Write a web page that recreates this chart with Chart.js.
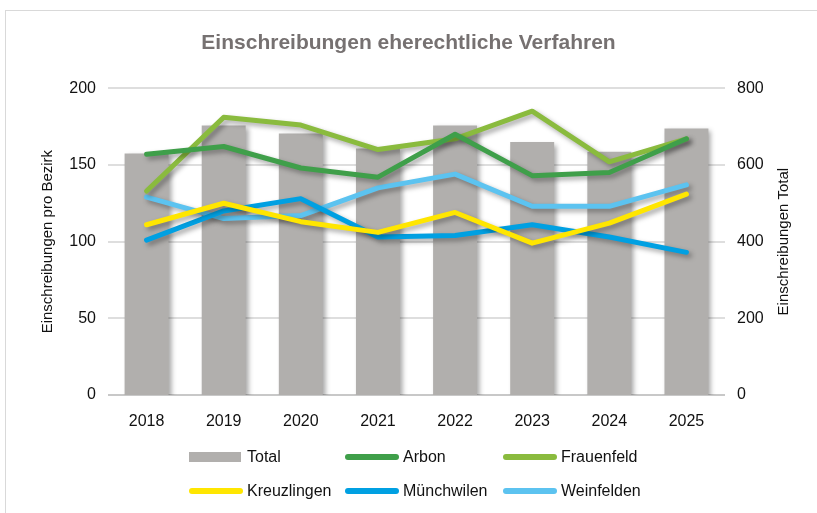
<!DOCTYPE html>
<html>
<head>
<meta charset="utf-8">
<script src="https://cdn.jsdelivr.net/npm/chart.js@4/dist/chart.umd.min.js"></script>
<style>
  html, body { margin:0; padding:0; background:#fff; }
  #wrap { position:relative; width:817px; height:513px; overflow:hidden; font-family:"Liberation Sans", Arial, sans-serif; }
  #frame { position:absolute; left:5px; top:10px; width:830px; height:530px; border:1px solid #d9d9d9; box-sizing:border-box; }
  #c { position:absolute; left:0; top:0; }
  #legend { position:absolute; left:189px; top:446px; display:grid; grid-template-columns:156px 158px 156px; row-gap:12px; }
  .lg { display:flex; align-items:center; height:22px; font-size:16px; color:#111; }
  .sw { width:54px; margin-right:4px; }
</style>
</head>
<body>
<div id="wrap">
  <div id="frame"></div>
  <canvas id="c" width="817" height="513"></canvas>
  <div id="legend"></div>
</div>
<script>
// ============ Einschreibungen eherechtliche Verfahren ============
const YEARS = ['2018','2019','2020','2021','2022','2023','2024','2025'];
const TOTAL = [630, 703, 682, 643, 703, 660, 634, 695];
const ARBON = [157, 162, 148, 142, 170, 143, 145, 167];
const FRAUENFELD = [133, 181, 176, 160, 167, 185, 152, 167];
const KREUZLINGEN = [111, 125, 113, 106, 119, 99, 112, 131];
const MUENCHWILEN = [101, 120, 128, 103, 104, 111, 103, 93];
const WEINFELDEN = [129, 115, 117, 135, 144, 123, 123, 137];

const LINE_NAMES = ['Arbon', 'Frauenfeld', 'Kreuzlingen', 'Münchwilen', 'Weinfelden'];
const LINE_DATA = [ARBON, FRAUENFELD, KREUZLINGEN, MUENCHWILEN, WEINFELDEN];
const LINE_COLORS = ['#3f9f4a', '#8abb3e', '#ffe600', '#00a0e2', '#5cc3f0'];
const BAR_COLOR = '#b1afad';

const FONT = '"Liberation Sans", Arial, sans-serif';

// soft drop shadow like the office chart
const shadowPlugin = {
  id: 'shadow',
  beforeDatasetDraw(chart) {
    const ctx = chart.ctx;
    ctx.save();
    ctx.shadowColor = 'rgba(0,0,0,0.35)';
    ctx.shadowBlur = 5;
    ctx.shadowOffsetX = 3;
    ctx.shadowOffsetY = 3;
  },
  afterDatasetDraw(chart) { chart.ctx.restore(); }
};

// right axis title reads bottom-to-top like the left one
const rightTitlePlugin = {
  id: 'rightTitle',
  afterDraw(chart) {
    const ctx = chart.ctx, a = chart.chartArea;
    ctx.save();
    ctx.translate(784, (a.top + a.bottom) / 2);
    ctx.rotate(-Math.PI / 2);
    ctx.font = '15px ' + FONT;
    ctx.fillStyle = '#111';
    ctx.textAlign = 'center';
    ctx.textBaseline = 'middle';
    ctx.fillText('Einschreibungen Total', 0, 0);
    ctx.restore();
  }
};

const datasets = [{
  type: 'bar', label: 'Total', data: TOTAL, yAxisID: 'y2', order: 10,
  backgroundColor: BAR_COLOR, categoryPercentage: 1, barPercentage: 0.57
}];
LINE_NAMES.forEach((n, i) => {
  datasets.push({
    type: 'line', label: n, data: LINE_DATA[i], yAxisID: 'y', order: i,
    borderColor: LINE_COLORS[i], backgroundColor: LINE_COLORS[i], borderWidth: 5,
    pointRadius: 0, tension: 0, borderCapStyle: 'round', borderJoinStyle: 'round'
  });
});

new Chart(document.getElementById('c'), {
  data: { labels: YEARS, datasets },
  plugins: [shadowPlugin, rightTitlePlugin],
  options: {
    responsive: false, animation: false,
    layout: { padding: 0 },
    plugins: {
      legend: { display: false }, tooltip: { enabled: false },
      title: { display: true, text: 'Einschreibungen eherechtliche Verfahren', color: '#767171',
        font: { family: FONT, size: 21, weight: 'bold' }, padding: { top: 31, bottom: 32 } }
    },
    scales: {
      x: {
        grid: { display: false }, border: { display: false },
        ticks: { color: '#111', font: { family: FONT, size: 16 }, padding: 9 },
        afterFit: s => { s.height = 118; }
      },
      y: {
        position: 'left', min: 0, max: 200,
        ticks: { stepSize: 50, color: '#111', font: { family: FONT, size: 16 }, padding: 12 },
        grid: { color: ctx => ctx.tick && ctx.tick.value === 0 ? '#c8c8c8' : '#dedede', lineWidth: 2, drawTicks: false },
        border: { display: false },
        title: { display: true, text: 'Einschreibungen pro Bezirk', color: '#111', font: { family: FONT, size: 15 }, padding: { top: 39, bottom: 0 } },
        afterFit: s => { s.width = 108; }
      },
      y2: {
        position: 'right', min: 0, max: 800,
        ticks: { stepSize: 200, color: '#111', font: { family: FONT, size: 16 }, padding: 12 },
        grid: { display: false, drawTicks: false }, border: { display: false },
        afterFit: s => { s.width = 92; }
      }
    }
  }
});

// legend in the office layout: 3 columns, 2 rows
const legendItems = [{ name: 'Total', color: BAR_COLOR, bar: true }]
  .concat(LINE_NAMES.map((n, i) => ({ name: n, color: LINE_COLORS[i], bar: false })));
document.getElementById('legend').innerHTML = legendItems.map(it => {
  const sw = it.bar
    ? `<span class="sw" style="height:10px;width:52px;margin-right:6px;background:${it.color}"></span>`
    : `<span class="sw" style="height:6px;border-radius:3px;background:${it.color}"></span>`;
  return `<div class="lg">${sw}<span>${it.name}</span></div>`;
}).join('');
</script>
</body>
</html>
